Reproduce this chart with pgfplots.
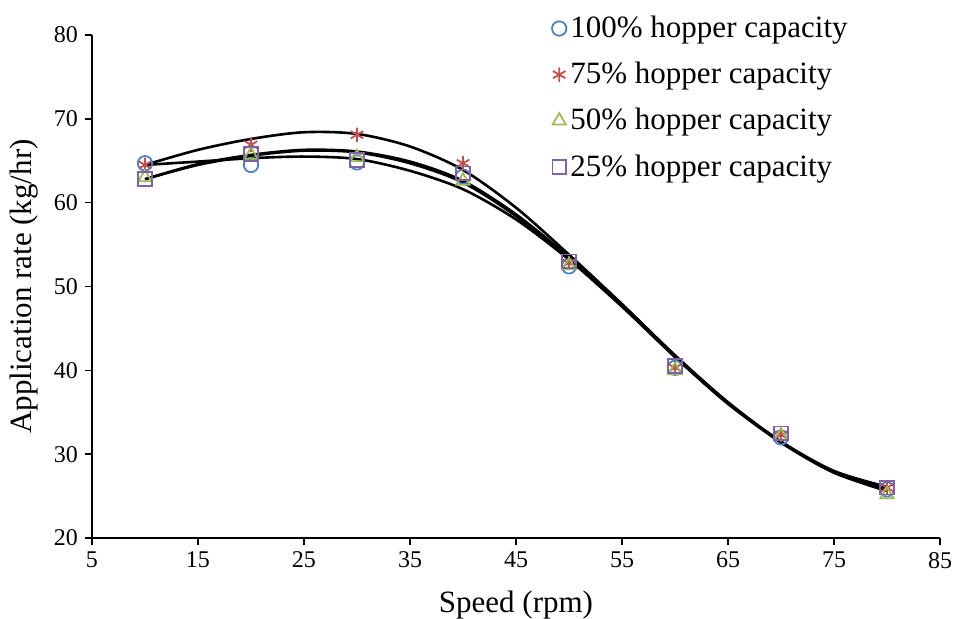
\documentclass[border=0pt]{standalone}
\usepackage{fontspec}
\setmainfont{Liberation Serif}
\usepackage{pgfplots}
\usepackage{pgfplotstable}
\pgfplotsset{compat=1.18}
\definecolor{cblue}{HTML}{4F81BD}
\definecolor{cred}{HTML}{C0504D}
\definecolor{cgreen}{HTML}{9BBB59}
\definecolor{cpurple}{HTML}{8064A2}

% measured points
\pgfplotstableread{
x   h100 h75  h50  h25
10  64.7 64.5 63.0 62.8
20  64.5 66.9 65.7 65.8
30  64.8 68.1 65.4 65.1
40  63.1 64.7 62.6 63.5
50  52.4 52.8 52.5 53.0
60  40.3 40.3 40.0 40.5
70  32.0 32.3 32.2 32.5
80  25.8 26.0 25.2 26.0
}\pts

% trend lines
\pgfplotstableread{
x   t100 t75  t50  t25
10  64.5 64.5 62.8 62.8
15  64.9 66.3 64.5 64.6
20  65.3 67.6 65.6 65.7
25  65.5 68.4 66.2 66.3
30  65.2 68.2 66.0 66.1
35  63.8 66.7 64.7 64.9
40  61.6 63.9 62.4 62.6
45  58.0 59.4 58.4 58.6
50  53.2 53.8 53.3 53.5
55  47.6 47.9 47.7 47.8
60  41.6 41.8 41.6 41.7
65  36.1 36.2 36.0 36.1
70  31.4 31.5 31.4 31.5
75  27.8 28.0 27.8 27.9
80  25.8 26.1 25.6 25.9
}\fits

\begin{document}
\begin{tikzpicture}
\begin{axis}[name=main,scale only axis,width=424pt,height=251.5pt,
xmin=5,xmax=85,ymin=20,ymax=80,
xtick={5,15,...,85},ytick={20,30,...,80},
axis x line=bottom,axis y line=left,axis line style={-,thick},
tick align=outside,major tick length=3.5pt,tick style={black,thick},
ticklabel style={font=\fontsize{12}{14}\selectfont},
/pgf/number format/assume math mode=true,
xlabel={Speed (rpm)},ylabel={Application rate (kg/hr)},
label style={font=\fontsize{15.5}{18}\selectfont},
xlabel style={yshift=-4.5pt},ylabel style={yshift=1pt},
legend cell align=left,
legend style={draw=none,fill=none,at={(0.542,1.046)},anchor=north west,
font=\fontsize{15.5}{18}\selectfont,row sep=6.8pt,inner sep=0pt},
mark options={solid,line width=0.9pt},
]
\addplot[only marks,cblue,mark=o,mark size=3.6pt] table[x=x,y=h100] {\pts};
\addplot[only marks,cred,mark=asterisk,mark size=3.6pt] table[x=x,y=h75] {\pts};
\addplot[only marks,cgreen,mark=triangle,mark size=3.8pt] table[x=x,y=h50] {\pts};
\addplot[only marks,cpurple,mark=square,mark size=3.4pt] table[x=x,y=h25] {\pts};
\addplot[black,line width=1.3pt,smooth,forget plot] table[x=x,y=t100] {\fits};
\addplot[black,line width=1.3pt,smooth,forget plot] table[x=x,y=t75] {\fits};
\addplot[black,line width=1.3pt,smooth,forget plot] table[x=x,y=t50] {\fits};
\addplot[black,line width=1.3pt,smooth,forget plot] table[x=x,y=t25] {\fits};
\legend{100\% hopper capacity,75\% hopper capacity,50\% hopper capacity,25\% hopper capacity}
\end{axis}
\pgfresetboundingbox
\path ([xshift=-46pt,yshift=-40.5pt]main.south west) rectangle ([xshift=9pt,yshift=17.5pt]main.north east);
\end{tikzpicture}
\end{document}
